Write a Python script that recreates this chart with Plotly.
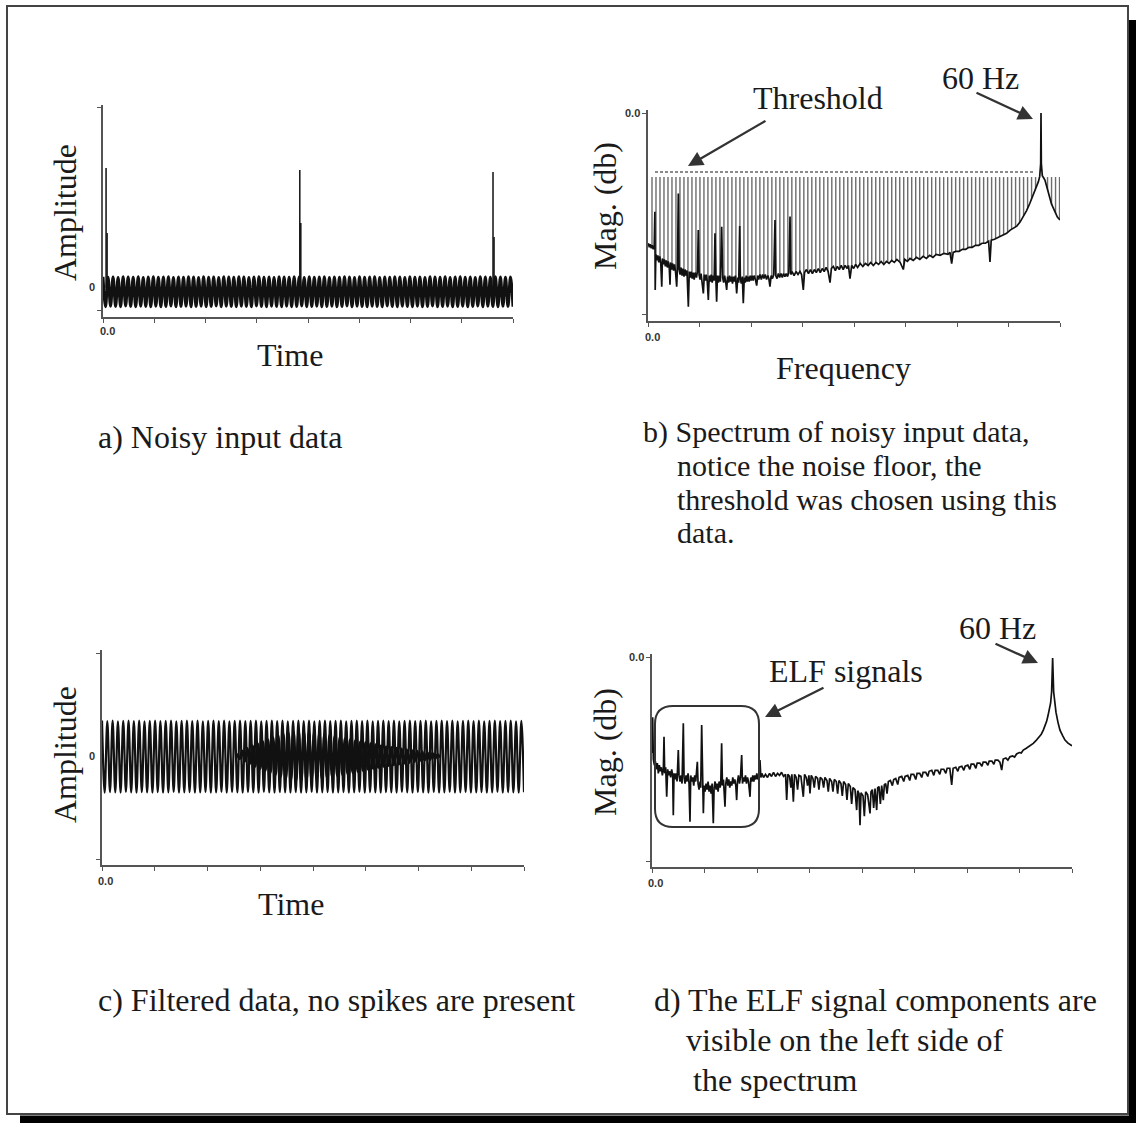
import numpy as np
import plotly.graph_objects as go

W, H = 1136, 1123
SERIF = "Liberation Serif, Times New Roman, serif"


def px(x):
    return x / W


def py(y):
    return 1 - y / H


# ---------------- a) noisy input data (time signal) ----------------
a_time_span = [0.0, 8.0]
a_upper = [0.48, 0.46, 0.47, 0.45, 0.48, 0.47, 0.46, 0.48, 0.45, 0.47,
           0.48, 0.46, 0.47, 0.48, 0.45, 0.47, 0.46, 0.48, 0.47, 0.45,
           0.48, 0.46, 0.47, 0.45, 0.48, 0.47, 0.46, 0.48, 0.47, 0.45,
           0.47, 0.48, 0.46, 0.47, 0.45, 0.48, 0.47, 0.46, 0.48, 0.47,
           0.45, 0.48, 0.46, 0.47, 0.48, 0.45, 0.47, 0.46, 0.48, 0.47,
           0.45, 0.48, 0.46, 0.47, 0.48, 0.45, 0.47, 0.46, 0.48, 0.47,
           0.45, 0.48, 0.46, 0.47, 0.45, 0.48, 0.47, 0.46, 0.48, 0.45,
           0.47, 0.48, 0.46, 0.47, 0.45, 0.48, 0.47, 0.46, 0.48, 0.47,
           0.46, 0.47]
a_lower = [-0.84, -0.82, -0.83, -0.84, -0.81, -0.83, -0.84, -0.82, -0.83, -0.84,
           -0.82, -0.84, -0.83, -0.81, -0.84, -0.83, -0.82, -0.84, -0.83, -0.82,
           -0.84, -0.83, -0.81, -0.84, -0.82, -0.83, -0.84, -0.82, -0.83, -0.84,
           -0.81, -0.83, -0.84, -0.82, -0.83, -0.84, -0.82, -0.84, -0.83, -0.81,
           -0.84, -0.83, -0.82, -0.84, -0.83, -0.82, -0.84, -0.83, -0.81, -0.84,
           -0.82, -0.83, -0.84, -0.82, -0.83, -0.84, -0.81, -0.83, -0.84, -0.82,
           -0.83, -0.84, -0.82, -0.84, -0.83, -0.81, -0.84, -0.83, -0.82, -0.84,
           -0.83, -0.82, -0.84, -0.83, -0.81, -0.84, -0.82, -0.83, -0.84, -0.82,
           -0.83, -0.84]
a_spike_t = [0.06, 3.84, 7.61]
a_spike_peak = [5.31, 5.22, 5.13]
a_spike_t2 = [0.08, 3.86, 7.63]
a_spike_second = [2.43, 2.87, 2.25]

# ---------------- c) filtered data (time signal) ----------------
c_time_span = [0.0, 8.0]
c_upper = [1.38, 1.36, 1.38, 1.35, 1.37, 1.38, 1.36, 1.38, 1.35, 1.37,
           1.38, 1.36, 1.37, 1.38, 1.35, 1.37, 1.38, 1.36, 1.38, 1.35,
           1.37, 1.38, 1.36, 1.38, 1.35, 1.37, 1.38, 1.36, 1.37, 1.38,
           1.35, 1.37, 1.38, 1.36, 1.38, 1.35, 1.37, 1.38, 1.36, 1.38,
           1.35, 1.37, 1.38, 1.36, 1.37, 1.38, 1.35, 1.37, 1.38, 1.36,
           1.38, 1.35, 1.37, 1.38, 1.36, 1.38, 1.35, 1.37, 1.38, 1.36,
           1.37, 1.38, 1.35, 1.37, 1.38, 1.36, 1.38, 1.35, 1.37, 1.38,
           1.36, 1.38, 1.35, 1.37, 1.38, 1.36, 1.37, 1.38, 1.35, 1.37]
c_lower = [-1.42, -1.40, -1.41, -1.42, -1.39, -1.41, -1.42, -1.40, -1.41, -1.42,
           -1.40, -1.42, -1.41, -1.39, -1.42, -1.41, -1.40, -1.42, -1.41, -1.40,
           -1.42, -1.41, -1.39, -1.42, -1.40, -1.41, -1.42, -1.40, -1.41, -1.42,
           -1.39, -1.41, -1.42, -1.40, -1.41, -1.42, -1.40, -1.42, -1.41, -1.39,
           -1.42, -1.41, -1.40, -1.42, -1.41, -1.40, -1.42, -1.41, -1.39, -1.42,
           -1.40, -1.41, -1.42, -1.40, -1.41, -1.42, -1.39, -1.41, -1.42, -1.40,
           -1.41, -1.42, -1.40, -1.42, -1.41, -1.39, -1.42, -1.41, -1.40, -1.42,
           -1.41, -1.40, -1.42, -1.41, -1.39, -1.42, -1.40, -1.41, -1.42, -1.40]
# beat region in the middle of the filtered record
c_lens_span = [2.56, 6.41]
c_lens_amp = [0.10, 0.20, 0.30, 0.40, 0.48, 0.56, 0.64, 0.72, 0.80, 0.86,
              0.90, 0.94, 0.95, 0.94, 0.92, 0.90, 0.87, 0.84, 0.80, 0.76,
              0.72, 0.68, 0.64, 0.60, 0.56, 0.52, 0.48, 0.44, 0.40, 0.37,
              0.34, 0.31, 0.28, 0.25, 0.22, 0.19, 0.16, 0.13, 0.10, 0.06]

# ---------------- b) spectrum of the noisy input ----------------
freq_max_hz = 62.9
b_threshold_db = -29.2
b_threshold_span_hz = [1.07, 58.8]
b_harmonic_spacing_hz = 0.61
b_harmonic_top_db = -31.7
# noise floor of the input spectrum: (Hz, dB)
b_floor = [
    (0.05, -64.5), (0.2, -66.5), (0.35, -65.0), (0.5, -67.0), (0.65, -65.5),
    (0.8, -67.5), (0.95, -66.0), (1.05, -48.9), (1.1, -87.6), (1.2, -70.0),
    (1.35, -73.0), (1.5, -70.5), (1.65, -74.0), (1.8, -71.0), (1.95, -74.5),
    (2.1, -86.0), (2.2, -72.0), (2.35, -75.0), (2.5, -72.5), (2.65, -76.0),
    (2.8, -73.0), (2.95, -76.5), (3.1, -73.5), (3.25, -77.0), (3.36, -85.0),
    (3.45, -74.0), (3.6, -77.5), (3.75, -74.5), (3.9, -78.0), (4.05, -75.0),
    (4.2, -78.5), (4.38, -86.0), (4.5, -76.0), (4.63, -39.8), (4.75, -77.5),
    (4.9, -80.0), (5.05, -76.5), (5.2, -80.5), (5.35, -77.0), (5.5, -81.0),
    (5.65, -77.5), (5.8, -80.5), (5.95, -78.0), (6.16, -95.9), (6.3, -78.5),
    (6.45, -81.5), (6.6, -78.5), (6.75, -82.0), (6.9, -79.0), (7.05, -82.5),
    (7.2, -79.0), (7.4, -81.5), (7.55, -78.5), (7.68, -57.9), (7.8, -80.0),
    (7.95, -82.5), (8.1, -79.5), (8.25, -83.0), (8.45, -89.3), (8.6, -80.0),
    (8.75, -83.0), (8.9, -80.0), (9.05, -83.5), (9.21, -92.6), (9.35, -80.5),
    (9.5, -83.5), (9.65, -80.0), (9.8, -84.0), (9.95, -80.5), (10.1, -83.0),
    (10.23, -59.6), (10.35, -81.0), (10.48, -93.4), (10.6, -80.5), (10.75, -84.0),
    (10.9, -80.5), (11.05, -83.5), (11.25, -56.3), (11.4, -81.5), (11.55, -84.0),
    (11.7, -80.5), (11.85, -83.5), (12.01, -87.6), (12.15, -81.0), (12.3, -84.0),
    (12.45, -80.5), (12.6, -83.5), (12.75, -81.0), (12.9, -84.5), (13.05, -81.0),
    (13.2, -83.5), (13.35, -80.5), (13.54, -89.3), (13.7, -81.5), (13.85, -84.0),
    (14.0, -56.0), (14.1, -82.0), (14.25, -84.5), (14.4, -81.0), (14.55, -94.2),
    (14.7, -81.5), (14.85, -84.0), (15.0, -80.5), (15.15, -83.5), (15.3, -81.0),
    (15.45, -83.5), (15.6, -80.5), (15.75, -83.0), (15.9, -80.5), (16.05, -83.0),
    (16.2, -80.5), (16.4, -82.5), (16.59, -85.5), (16.75, -80.5), (16.9, -82.5),
    (17.1, -80.0), (17.3, -82.5), (17.5, -80.0), (17.7, -82.0), (17.9, -80.0),
    (18.1, -82.5), (18.3, -80.5), (18.45, -82.0), (18.62, -86.0), (18.8, -80.5),
    (19.0, -82.0), (19.2, -80.0), (19.39, -53.0), (19.5, -80.5), (19.7, -82.0),
    (19.9, -79.5), (20.1, -81.5), (20.3, -79.5), (20.5, -81.5), (20.7, -79.5),
    (20.9, -81.0), (21.1, -79.5), (21.3, -81.0), (21.5, -79.0), (21.68, -51.3),
    (21.8, -80.0), (22.0, -78.5), (22.3, -80.5), (22.6, -78.5), (22.9, -80.0),
    (23.2, -78.5), (23.45, -80.0), (23.71, -87.6), (23.9, -79.0), (24.2, -77.5),
    (24.5, -79.5), (24.8, -77.5), (25.1, -79.5), (25.4, -77.5), (25.7, -79.0),
    (26.0, -77.0), (26.3, -79.0), (26.6, -77.0), (26.9, -78.5), (27.2, -76.5),
    (27.5, -78.5), (27.79, -84.0), (28.0, -77.0), (28.3, -76.0), (28.6, -78.0),
    (28.9, -76.0), (29.2, -77.5), (29.5, -75.5), (29.8, -77.5), (30.1, -75.5),
    (30.4, -77.0), (30.6, -75.5), (30.84, -82.0), (31.1, -75.5), (31.4, -77.0),
    (31.7, -75.0), (32.0, -76.5), (32.4, -74.5), (32.8, -76.0), (33.2, -74.5),
    (33.6, -75.5), (34.0, -74.0), (34.4, -75.5), (34.8, -74.0), (35.2, -75.0),
    (35.6, -73.5), (36.0, -75.0), (36.4, -73.5), (36.8, -74.5), (37.2, -73.0),
    (37.6, -74.0), (38.0, -72.5), (38.5, -74.0), (38.98, -77.5), (39.2, -72.5),
    (39.6, -73.5), (40.0, -72.0), (40.5, -73.0), (41.0, -71.5), (41.5, -72.5),
    (42.0, -71.0), (42.5, -72.0), (43.0, -70.5), (43.5, -71.5), (44.0, -70.0),
    (44.6, -70.5), (45.2, -69.5), (45.8, -70.0), (46.1, -69.0), (46.36, -74.6),
    (46.6, -69.0), (47.0, -68.5), (47.5, -68.5), (48.0, -67.5), (48.5, -67.5),
    (49.0, -66.5), (49.5, -66.5), (50.0, -65.5), (50.5, -65.5), (51.0, -64.5),
    (51.5, -64.5), (52.0, -63.5), (52.21, -73.7), (52.4, -63.0), (52.9, -62.5),
    (53.5, -61.5), (54.1, -60.5), (54.75, -59.6), (55.3, -58.0), (55.8, -57.0),
    (56.3, -56.0), (56.8, -54.0), (57.3, -51.3), (57.8, -48.3), (58.3, -44.7),
    (58.7, -41.5), (59.0, -39.5), (59.2, -38.0), (59.4, -36.5), (59.6, -34.0),
    (59.8, -31.5), (59.95, -25.0), (60.0, 0.0), (60.05, -25.0), (60.2, -31.0),
    (60.4, -32.0), (60.6, -33.2), (60.8, -35.5), (61.0, -38.0), (61.2, -40.5),
    (61.4, -43.1), (61.6, -45.0), (61.8, -46.5), (62.0, -48.0), (62.2, -49.7),
    (62.5, -51.5), (62.9, -53.0),
]

# ---------------- d) spectrum of the filtered data: (Hz, dB) ----------------
d_spectrum = [
    (0.0, -47.0), (0.1, -29.5), (0.2, -50.0), (0.35, -53.0), (0.5, -51.0),
    (0.65, -55.0), (0.8, -52.0), (0.95, -57.0), (1.1, -53.0), (1.25, -56.0),
    (1.4, -54.0), (1.55, -58.0), (1.7, -55.0), (1.8, -39.1), (1.9, -57.0),
    (2.05, -54.0), (2.2, -68.5), (2.35, -55.0), (2.5, -58.0), (2.65, -56.0),
    (2.8, -59.0), (2.95, -55.0), (3.1, -58.0), (3.19, -77.5), (3.3, -57.0),
    (3.45, -60.0), (3.6, -57.0), (3.75, -61.0), (3.94, -45.6), (4.05, -58.0),
    (4.2, -61.0), (4.35, -58.0), (4.5, -62.0), (4.69, -32.5), (4.8, -59.0),
    (4.95, -62.0), (5.1, -58.0), (5.25, -61.0), (5.4, -57.0), (5.55, -62.0),
    (5.69, -80.7), (5.8, -58.0), (5.95, -61.0), (6.1, -59.0), (6.25, -63.0),
    (6.4, -58.0), (6.55, -61.0), (6.79, -51.3), (6.9, -62.0), (7.05, -65.0),
    (7.2, -61.0), (7.3, -64.0), (7.44, -33.3), (7.55, -63.0), (7.69, -76.6),
    (7.8, -63.0), (7.95, -66.0), (8.1, -62.0), (8.25, -65.0), (8.4, -61.0),
    (8.55, -66.0), (8.7, -63.0), (8.85, -67.0), (9.0, -62.0), (9.18, -81.5),
    (9.3, -64.0), (9.45, -61.0), (9.6, -65.0), (9.75, -62.0), (9.9, -66.0),
    (10.05, -61.0), (10.2, -64.0), (10.3, -62.0), (10.43, -42.3), (10.55, -63.0),
    (10.7, -60.0), (10.93, -73.4), (11.05, -62.0), (11.2, -59.0), (11.35, -63.0),
    (11.5, -60.0), (11.65, -64.0), (11.8, -61.0), (11.95, -63.0), (12.1, -59.0),
    (12.25, -62.0), (12.4, -60.0), (12.55, -63.0), (12.68, -70.1), (12.8, -61.0),
    (12.95, -58.0), (13.1, -62.0), (13.25, -59.0), (13.43, -48.0), (13.55, -62.0),
    (13.7, -59.0), (13.85, -61.0), (14.0, -58.0), (14.15, -62.0), (14.3, -59.0),
    (14.45, -61.0), (14.68, -68.5), (14.8, -59.0), (14.95, -61.0), (15.1, -58.0),
    (15.25, -61.0), (15.4, -58.0), (15.55, -60.0), (15.7, -57.0), (15.85, -60.0),
    (16.0, -58.0), (16.17, -50.5), (16.3, -59.0), (16.45, -57.0), (16.7, -59.0),
    (17.0, -57.5), (17.3, -59.0), (17.6, -57.0), (17.9, -58.5), (18.2, -56.5),
    (18.5, -58.5), (18.8, -57.0), (19.1, -58.0), (19.4, -56.5), (19.7, -58.5),
    (20.0, -57.5), (20.17, -70.1), (20.35, -57.5), (20.6, -58.5), (20.8, -64.0),
    (20.95, -57.5), (21.17, -70.9), (21.35, -57.5), (21.6, -59.0), (21.8, -65.0),
    (22.0, -58.0), (22.3, -58.5), (22.66, -68.5), (22.85, -57.5), (23.1, -59.0),
    (23.3, -63.0), (23.5, -58.0), (23.66, -66.8), (23.85, -58.0), (24.1, -59.5),
    (24.3, -64.0), (24.5, -58.5), (24.8, -59.5), (25.0, -65.0), (25.2, -59.0),
    (25.5, -60.0), (25.7, -64.0), (25.9, -59.0), (26.2, -60.5), (26.4, -66.0),
    (26.6, -59.5), (26.9, -61.0), (27.1, -66.0), (27.3, -60.0), (27.6, -61.0),
    (27.8, -67.0), (28.0, -60.5), (28.3, -62.0), (28.5, -68.0), (28.7, -61.0),
    (29.0, -62.5), (29.2, -70.0), (29.4, -62.0), (29.7, -63.5), (29.9, -72.0),
    (30.1, -64.0), (30.4, -65.0), (30.65, -75.0), (30.8, -65.5), (31.0, -67.0),
    (31.15, -82.4), (31.3, -66.5), (31.6, -68.0), (31.8, -78.0), (32.0, -66.0),
    (32.3, -67.5), (32.65, -76.6), (32.8, -66.0), (33.0, -65.0), (33.2, -74.0),
    (33.4, -64.5), (33.65, -75.0), (33.8, -64.0), (34.0, -63.5), (34.2, -72.0),
    (34.4, -63.0), (34.64, -70.1), (34.8, -62.5), (35.0, -62.0), (35.2, -67.0),
    (35.4, -61.0), (35.7, -60.5), (36.0, -63.0), (36.2, -60.0), (36.5, -59.5),
    (36.8, -62.5), (37.0, -59.0), (37.4, -58.5), (37.7, -61.0), (37.9, -58.5),
    (38.3, -58.0), (38.6, -60.5), (38.8, -57.5), (39.2, -57.5), (39.5, -60.0),
    (39.7, -57.0), (40.1, -57.0), (40.4, -59.0), (40.6, -56.5), (41.0, -56.5),
    (41.3, -58.5), (41.5, -56.0), (41.9, -55.5), (42.2, -58.0), (42.4, -55.5),
    (42.8, -55.5), (43.1, -57.5), (43.3, -55.0), (43.7, -55.0), (44.0, -57.0),
    (44.2, -54.5), (44.6, -54.5), (44.88, -62.7), (45.1, -54.5), (45.5, -54.0),
    (45.8, -56.0), (46.0, -54.0), (46.4, -53.5), (46.7, -55.5), (46.9, -53.5),
    (47.3, -53.0), (47.6, -55.0), (47.8, -52.5), (48.2, -52.5), (48.5, -54.5),
    (48.7, -52.0), (49.1, -52.0), (49.4, -53.5), (49.6, -51.5), (50.0, -51.5),
    (50.3, -53.0), (50.5, -51.0), (50.9, -51.0), (51.2, -52.5), (51.4, -50.5),
    (51.8, -50.5), (52.1, -51.5), (52.37, -55.4), (52.6, -50.0), (53.0, -49.5),
    (53.3, -50.5), (53.6, -48.9), (54.0, -48.5), (54.3, -49.0), (54.6, -47.5),
    (55.0, -46.8), (55.3, -47.0), (55.6, -45.6), (56.0, -44.8), (56.4, -44.0),
    (56.8, -43.2), (57.1, -42.3), (57.5, -41.0), (57.9, -39.5), (58.3, -37.8),
    (58.6, -35.8), (58.9, -33.5), (59.1, -31.5), (59.3, -28.8), (59.5, -26.0),
    (59.7, -22.5), (59.85, -17.0), (60.0, -0.5), (60.15, -17.0), (60.3, -22.5),
    (60.5, -27.0), (60.8, -32.0), (61.1, -35.8), (61.5, -38.5), (61.85, -40.7),
    (62.3, -42.2), (62.9, -43.5),
]

# ---------------- axis scales ----------------
a_range = [-1.3, 8.1]
a_ticks = [-1, 8]
b_range = [-103.0, 1.5]
c_range = [-4.23, 4.12]
c_ticks = [-4, 4]
d_range = [-102.9, 1.5]
db_ticks = [-100, 0]
time_ticks = list(range(0, 9))
freq_ticks = list(np.linspace(0, freq_max_hz, 9))

INK = "#111111"
AXIS = "#555555"


def zigzag(upper, lower):
    vals = []
    for u, l in zip(upper, lower):
        vals += [u, l]
    return vals


fig = go.Figure()

# a) time signal
a_vals = zigzag(a_upper, a_lower)
a_t = np.linspace(a_time_span[0], a_time_span[1], len(a_vals))
fig.add_trace(go.Scatter(x=a_t, y=a_vals, mode="lines", xaxis="x", yaxis="y",
                         line=dict(color=INK, width=3.0, shape="spline")))
sx, sy = [], []
for t, p, t2, p2 in zip(a_spike_t, a_spike_peak, a_spike_t2, a_spike_second):
    sx += [t, t, None, t2, t2, None]
    sy += [0, p, None, 0, p2, None]
fig.add_trace(go.Scatter(x=sx, y=sy, mode="lines", xaxis="x", yaxis="y",
                         line=dict(color=INK, width=1.5)))

# b) spectrum: harmonic comb, white mask below the floor, floor trace
b_hz = [p[0] for p in b_floor]
b_db = [p[1] for p in b_floor]
harm = np.arange(b_harmonic_spacing_hz, freq_max_hz, b_harmonic_spacing_hz)
hx, hy = [], []
for f in harm:
    hx += [f, f, None]
    hy += [b_harmonic_top_db, b_range[0], None]
fig.add_trace(go.Scatter(x=hx, y=hy, mode="lines", xaxis="x2", yaxis="y2",
                         line=dict(color="#6c6c6c", width=1.4)))
mask_x = b_hz + [freq_max_hz, 0.0]
mask_y = b_db + [b_range[0], b_range[0]]
fig.add_trace(go.Scatter(x=mask_x, y=mask_y, mode="lines", fill="toself",
                         fillcolor="white", line=dict(width=0),
                         xaxis="x2", yaxis="y2"))
fig.add_trace(go.Scatter(x=b_threshold_span_hz, y=[b_threshold_db] * 2,
                         mode="lines", xaxis="x2", yaxis="y2",
                         line=dict(color="#666666", width=1.5, dash="3px,2px")))
fig.add_trace(go.Scatter(x=b_hz, y=b_db, mode="lines", xaxis="x2", yaxis="y2",
                         line=dict(color=INK, width=1.7)))

# c) filtered time signal
c_vals = zigzag(c_upper, c_lower)
c_t = np.linspace(c_time_span[0], c_time_span[1], len(c_vals))
fig.add_trace(go.Scatter(x=c_t, y=c_vals, mode="lines", xaxis="x3", yaxis="y3",
                         line=dict(color=INK, width=2.2, shape="spline")))
lens_vals = zigzag(c_lens_amp, [-v for v in c_lens_amp])
lens_t = np.linspace(c_lens_span[0], c_lens_span[1], len(lens_vals))
fig.add_trace(go.Scatter(x=lens_t, y=lens_vals, mode="lines", xaxis="x3", yaxis="y3",
                         line=dict(color=INK, width=2.8, shape="spline")))

# d) filtered spectrum
fig.add_trace(go.Scatter(x=[p[0] for p in d_spectrum], y=[p[1] for p in d_spectrum],
                         mode="lines", xaxis="x4", yaxis="y4",
                         line=dict(color=INK, width=1.7)))


def xaxis(dom, rng, ticks):
    return dict(domain=[px(dom[0]), px(dom[1])], range=rng, tickvals=ticks,
                showticklabels=False, ticks="outside", ticklen=4, tickwidth=1.2,
                tickcolor=AXIS, showline=True, linecolor=AXIS, linewidth=1.5,
                showgrid=False, zeroline=False, fixedrange=True)


def yaxis(dom, rng, ticks):
    return dict(domain=[py(dom[0]), py(dom[1])], range=rng, tickvals=ticks,
                showticklabels=False, ticks="outside", ticklen=4, tickwidth=1.2,
                tickcolor=AXIS, showline=True, linecolor=AXIS, linewidth=1.5,
                showgrid=False, zeroline=False, fixedrange=True)


fig.update_layout(
    width=W, height=H, margin=dict(l=0, r=0, t=0, b=0),
    paper_bgcolor="white", plot_bgcolor="white", showlegend=False,
    xaxis=dict(xaxis((103, 513), a_time_span, time_ticks), anchor="y"),
    yaxis=dict(yaxis((317, 105), a_range, a_ticks), anchor="x"),
    xaxis2=dict(xaxis((648, 1060), [0, freq_max_hz], freq_ticks), anchor="y2"),
    yaxis2=dict(yaxis((321, 110), b_range, db_ticks), anchor="x2"),
    xaxis3=dict(xaxis((102, 524), c_time_span, time_ticks), anchor="y3"),
    yaxis3=dict(yaxis((865, 650), c_range, c_ticks), anchor="x3"),
    xaxis4=dict(xaxis((652, 1072), [0, freq_max_hz], freq_ticks), anchor="y4"),
    yaxis4=dict(yaxis((867, 654), d_range, db_ticks), anchor="x4"),
)

ann = []


def text(s, x, y, size=32, angle=0, anchor="center", color="#1a1a1a",
         family=SERIF, bold=False):
    ann.append(dict(text=("<b>%s</b>" % s) if bold else s, x=px(x), y=py(y),
                    xref="paper", yref="paper", showarrow=False, textangle=angle,
                    xanchor=anchor, yanchor="middle",
                    font=dict(family=family, size=size, color=color)))


def arrow(tip, tail):
    ann.append(dict(text="", x=px(tip[0]), y=py(tip[1]), xref="paper", yref="paper",
                    showarrow=True, ax=tail[0] - tip[0], ay=tail[1] - tip[1],
                    arrowhead=2, arrowsize=1.3, arrowwidth=2.3, arrowcolor="#333333",
                    standoff=0))


# axis titles
text("Amplitude", 65, 213, angle=-90)
text("Amplitude", 65, 755, angle=-90)
text("Mag. (db)", 605, 206, angle=-90)
text("Mag. (db)", 605, 752, angle=-90)
text("Time", 290, 355)
text("Frequency", 843, 368)
text("Time", 291, 904)

# tick labels
TL = dict(size=11, family="Liberation Sans, Arial, sans-serif", color="#333333", bold=True)
text("0.0", 107, 331, **TL)
text("0", 92, 287, **TL)
text("0.0", 632, 113, **TL)
text("0.0", 652, 337, **TL)
text("0.0", 105, 881, **TL)
text("0", 92, 756, **TL)
text("0.0", 636, 657, **TL)
text("0.0", 655, 883, **TL)

# callouts
text("Threshold", 818, 98)
text("60 Hz", 980, 78)
text("60 Hz", 997, 628)
text("ELF signals", 846, 671)
arrow((688, 166), (767, 120))
arrow((1033, 119), (975, 92))
arrow((765, 717), (825, 687))
arrow((1038, 663), (994, 643))

# captions
text("a) Noisy input data", 96, 437, anchor="left")
text("b) Spectrum of noisy input data,", 641, 432, size=30, anchor="left")
text("notice the noise floor, the", 675, 465.5, size=30, anchor="left")
text("threshold was chosen using this", 675, 499, size=30, anchor="left")
text("data.", 675, 532.5, size=30, anchor="left")
text("c) Filtered data, no spikes are present", 96, 1000, anchor="left")
text("d) The ELF signal components are", 652, 1000, anchor="left")
text("visible on the left side of", 684, 1040, anchor="left")
text("the spectrum", 691, 1080, anchor="left")

fig.update_layout(annotations=ann)

# rounded box around the ELF region, page frame and drop shadow
x0, x1, y0, y1, r = 655, 759, 706, 827, 18
box = ("M {a},{b} L {c},{b} Q {d},{b} {d},{e} L {d},{f} Q {d},{g} {c},{g} "
       "L {a},{g} Q {h},{g} {h},{f} L {h},{e} Q {h},{b} {a},{b} Z").format(
    a=px(x0 + r), b=py(y0), c=px(x1 - r), d=px(x1), e=py(y0 + r),
    f=py(y1 - r), g=py(y1), h=px(x0))
fig.update_layout(shapes=[
    dict(type="path", path=box, xref="paper", yref="paper",
         line=dict(color="#333333", width=2)),
    dict(type="rect", xref="paper", yref="paper", x0=px(7), x1=px(1128),
         y0=py(6), y1=py(1114), line=dict(color="#444444", width=2)),
    dict(type="rect", xref="paper", yref="paper", x0=px(1129), x1=px(1136),
         y0=py(20), y1=py(1123), fillcolor="black", line=dict(width=0)),
    dict(type="rect", xref="paper", yref="paper", x0=px(20), x1=px(1136),
         y0=py(1115.5), y1=py(1123), fillcolor="black", line=dict(width=0)),
])

fig.write_html("out.html")
